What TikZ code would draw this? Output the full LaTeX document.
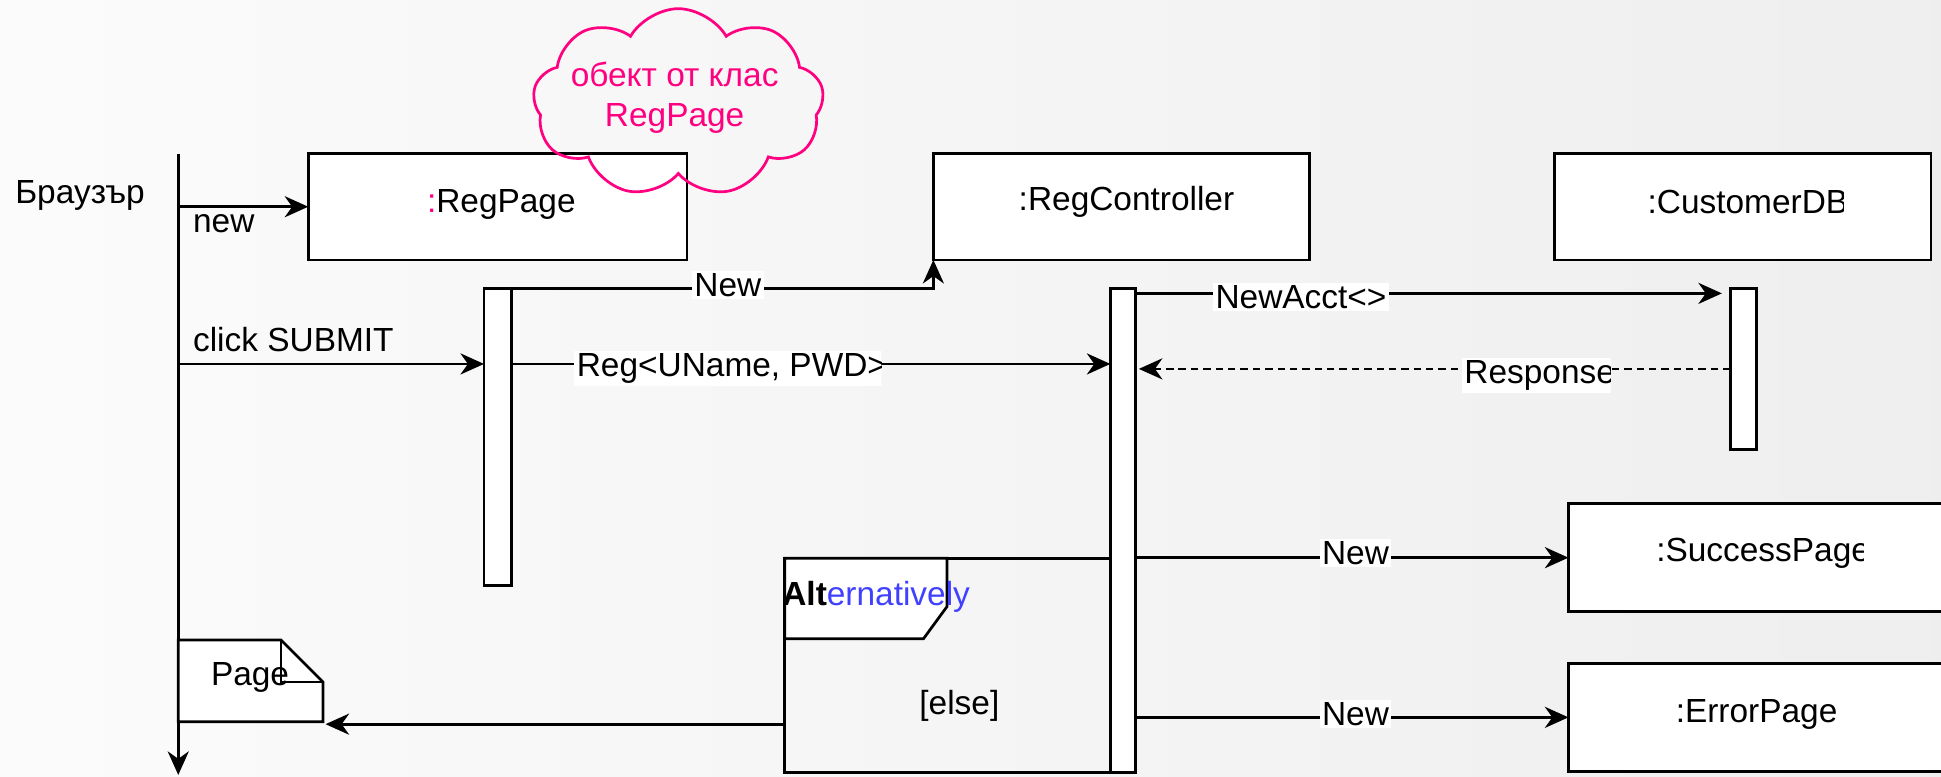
\documentclass[tikz,border=0pt]{standalone}
\usepackage{fontspec}
\setmainfont{Liberation Sans}
\usetikzlibrary{arrows.meta,shapes.symbols}
\definecolor{notepink}{HTML}{FF0080}
\definecolor{altblue}{HTML}{4040FF}
\begin{document}
\begin{tikzpicture}[x=1pt,y=-1pt,
  font=\fontsize{27}{32}\selectfont,
  line width=2.2pt,
  every node/.style={inner sep=0pt, outer sep=0pt},
  objbox/.style={draw, fill=white, anchor=north west, minimum width=306pt, minimum height=86pt},
  actbar/.style={draw, fill=white, anchor=north west, minimum width=22pt},
  msg/.style={-{Stealth[length=19pt,width=17pt,inset=6pt]}},
  reply/.style={msg, dash pattern=on 6pt off 4pt},
  lbl/.style={fill=white, inner sep=2pt},
]
% canvas
\useasboundingbox (0,0) rectangle (1568,627);
\clip (0,0) rectangle (1568,627);
\shade[left color=gray!3, right color=gray!13] (0,0) rectangle (1568,627);

% browser lifeline
\coordinate (bTop) at (144,124);
\coordinate (bBot) at (144,626);
\node[anchor=east] (browser) at (117,158) {Браузър};
\draw[msg] (bTop) -- (bBot);

% object boxes
\node[objbox] (regpage) at (249,124) {};
\node[objbox, minimum width=304pt] (ctrl) at (754,124) {};
\node[objbox, minimum width=304pt] (custdb) at (1256,124) {};
\node[objbox, minimum width=330pt, minimum height=87pt] (success) at (1267,407) {};
\node[objbox, minimum width=330pt, minimum height=87pt] (error) at (1267,536) {};

\node (rpTxt) at (405,165) {\textcolor{notepink}{:}RegPage};
\node (ctrlTxt) at (910,163) {:RegController};
\begin{scope}
  \clip (1300,140) rectangle (1489,190);
  \node[anchor=west] (cdbTxt) at (1331,163) {:CustomerDB};
\end{scope}
\begin{scope}
  \clip (1300,420) rectangle (1505,475);
  \node[anchor=west] (spTxt) at (1338,447) {:SuccessPage};
\end{scope}
\node (epTxt) at (1419,577) {:ErrorPage};

% alternative fragment
\node[draw, anchor=north west, minimum width=263pt, minimum height=173pt] (alt) at (634,451) {};
\draw[fill=white] (alt.north west) -- ++(131,0) -- ++(0,39) -- ++(-19,26) -- ++(-112,0) -- cycle;
\node[anchor=west] (altTxt) at (632,482) {\textbf{Alt}\textcolor{altblue}{ernatively}};
\node (elseTxt) at (775,570) {[else]};

% activation bars
\node[actbar, minimum height=240pt] (bar1) at (391,233) {};
\node[actbar, minimum width=20pt, minimum height=391pt] (bar2) at (897,233) {};
\node[actbar, minimum width=21pt, minimum height=130pt] (bar3) at (1398,233) {};

% returned page
\draw[fill=white] (144,517) -- (227,517) -- (261,551) -- (261,583) -- (144,583) -- cycle;
\draw (227,517) -- (227,551) -- (261,551);
\node (pageTxt) at (202,547) {Page};
\coordinate (pageR) at (263,585);

% message rows
\coordinate (rowSubmit) at (0,294);
\coordinate (rowAcct) at (0,237);
\coordinate (rowResp) at (0,298);

\draw[msg] (bTop |- regpage.west) -- (regpage.west);
\node[anchor=west] (newTxt) at (156,181) {new};

\draw[msg] (bTop |- rowSubmit) -- (bar1.west |- rowSubmit);
\node[anchor=west] (clickTxt) at (156,274) {click SUBMIT};

\draw[msg] (bar1.north east) -- (bar1.north east -| ctrl.south west) -- (ctrl.south west);
\node[lbl] (lblNew) at (588,230) {New};

\draw[msg] (bar1.east |- rowSubmit) -- (bar2.west |- rowSubmit);
\begin{scope}
  \clip (460,270) rectangle (712,325);
  \node[lbl, anchor=west] (lblReg) at (464,298) {Reg<UName, PWD>};
\end{scope}

\draw[msg, shorten >=7pt] (bar2.east |- rowAcct) -- (bar3.west |- rowAcct);
\node[lbl] (lblAcct) at (1051,240) {NewAcct<>};

\draw[reply, shorten >=3pt] (bar3.west |- rowResp) -- (bar2.east |- rowResp);
\begin{scope}
  \clip (1178,280) rectangle (1301,325);
  \node[lbl, anchor=west] (lblResp) at (1181,303) {Response};
\end{scope}

\draw[msg] (bar2.east |- success.west) -- (success.west);
\node[lbl] (lblS) at (1095,447) {New};
\draw[msg] (bar2.east |- error.west) -- (error.west);
\node[lbl] (lblE) at (1095,577) {New};

\draw[msg] (alt.west |- pageR) -- (pageR);

% note cloud
\node[cloud, draw=notepink, cloud puffs=9, cloud puff arc=120, aspect=1.55,
      minimum width=235pt, minimum height=152pt] (cloud) at (548,83) {};
\node[text=notepink, align=center] (cloudTxt) at (545,79) {обект от клас\\RegPage};
\end{tikzpicture}
\end{document}
